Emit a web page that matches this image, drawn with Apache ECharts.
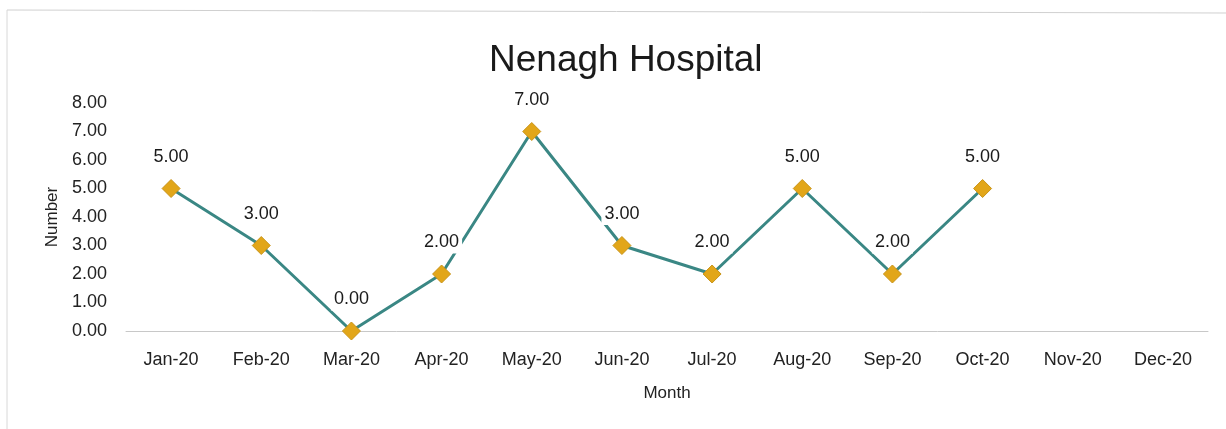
<!DOCTYPE html>
<html>
<head>
<meta charset="utf-8">
<script src="https://cdn.jsdelivr.net/npm/echarts@6/dist/echarts.min.js"></script>
<style>html,body{margin:0;padding:0;background:#fff;}#c{width:1226px;height:429px;}</style>
</head>
<body>
<div id="c"></div>
<script>
const months = ['Jan-20','Feb-20','Mar-20','Apr-20','May-20','Jun-20','Jul-20','Aug-20','Sep-20','Oct-20','Nov-20','Dec-20'];
const counts = [5, 3, 0, 2, 7, 3, 2, 5, 2, 5, null, null];
const titleText = 'Nenagh Hospital';
const xName = 'Month';
const yName = 'Number';

const FONT = '"Liberation Sans", Arial, sans-serif';
const chart = echarts.init(document.getElementById('c'), null, {renderer: 'canvas'});
chart.setOption({
  backgroundColor: '#fff',
  animation: false,
  title: {
    text: titleText, left: 484, top: 37,
    textStyle: {fontFamily: FONT, fontSize: 37, fontWeight: 'normal', color: '#1a1a1a'}
  },
  graphic: [
    {type: 'line', shape: {x1: 7, y1: 10, x2: 1226, y2: 13}, style: {stroke: '#d0d0d0', lineWidth: 1}},
    {type: 'line', shape: {x1: 7, y1: 10, x2: 7, y2: 429}, style: {stroke: '#d8d8d8', lineWidth: 1}}
  ],
  grid: {left: 126, right: 18, top: 103, bottom: 98},
  xAxis: {
    type: 'category', data: months, boundaryGap: true,
    name: xName, nameLocation: 'middle', nameGap: 54,
    nameTextStyle: {fontFamily: FONT, fontSize: 17, color: '#222'},
    axisLine: {show: true, lineStyle: {color: '#c8c8c8', width: 1}},
    axisTick: {show: false},
    axisLabel: {fontFamily: FONT, fontSize: 18, color: '#222', margin: 20}
  },
  yAxis: {
    type: 'value', min: 0, max: 8, interval: 1,
    name: yName, nameLocation: 'middle', nameGap: 62,
    nameTextStyle: {fontFamily: FONT, fontSize: 17, color: '#222'},
    axisLine: {show: false}, axisTick: {show: false}, splitLine: {show: false},
    axisLabel: {fontFamily: FONT, fontSize: 18, color: '#222', margin: 19,
      formatter: v => v.toFixed(2)}
  },
  series: [{
    type: 'line', data: counts, connectNulls: false,
    symbol: 'diamond', symbolSize: 18,
    lineStyle: {color: '#3a8784', width: 3},
    itemStyle: {color: '#e2a619', borderColor: '#c99418', borderWidth: 1},
    label: {
      show: true, position: 'top', distance: 11,
      formatter: p => p.value == null ? '' : Number(p.value).toFixed(2),
      fontFamily: FONT, fontSize: 18, color: '#1a1a1a',
      backgroundColor: '#fff', padding: [2, 3]
    },
    z: 3
  }]
});
</script>
</body>
</html>
